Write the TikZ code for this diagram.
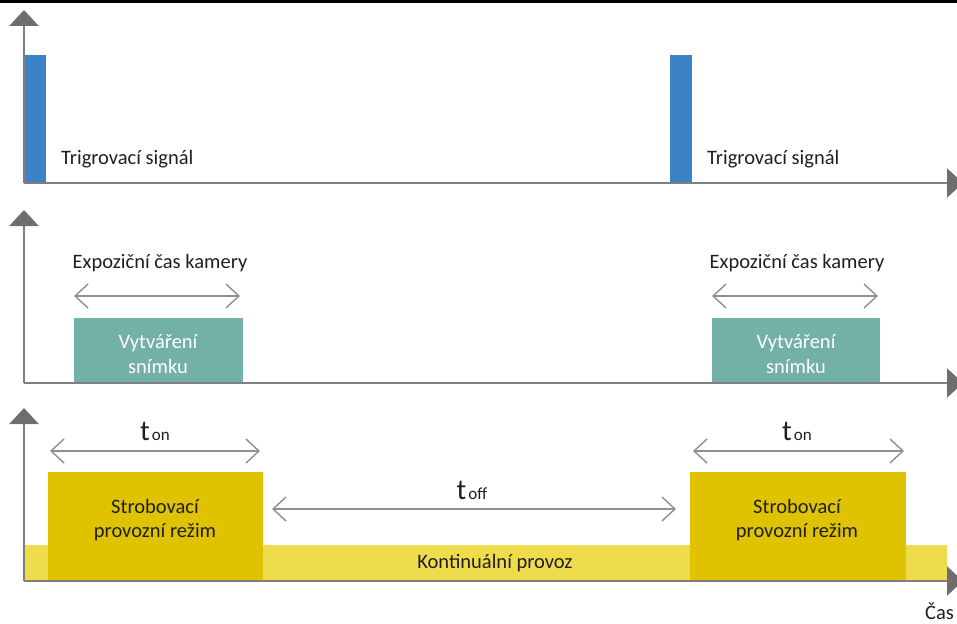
\documentclass[tikz,border=0pt]{standalone}
\usepackage{fontspec}
\setmainfont{Carlito}
\usetikzlibrary{arrows.meta}
\definecolor{axisgray}{HTML}{7F7F7F}
\definecolor{tipgray}{HTML}{6E6E6E}
\definecolor{dimgray}{HTML}{8F8F8F}
\definecolor{trigblue}{HTML}{3C82C6}
\definecolor{teal}{HTML}{73B0A7}
\definecolor{darkyellow}{HTML}{E0C300}
\definecolor{lightyellow}{HTML}{EFDC4C}
\definecolor{txt}{HTML}{1F1F1F}
\tikzset{
  axisline/.style={draw=axisgray, line width=2.4pt, -{Triangle[length=16pt,width=29pt,color=tipgray]}},
  dimline/.style={draw=dimgray, line width=1.4pt, {Straight Barb[length=13pt,width=24pt,line width=1.4pt]}-{Straight Barb[length=13pt,width=24pt,line width=1.4pt]}},
  box/.style={inner sep=0pt, outer sep=0pt, anchor=north west, draw=none},
  lbl/.style={inner sep=0pt, text=txt, font=\fontsize{20.5}{24.5}\selectfont, align=center},
  boxlbl/.style={inner sep=0pt, font=\fontsize{20.5}{24.5}\selectfont, align=center},
  tlbl/.style={inner sep=0pt, text=txt}
}
\begin{document}
\begin{tikzpicture}[x=1pt,y=-1pt]
\useasboundingbox (0,0) rectangle (957,623);
\clip (0,0) rectangle (957,623);
% top frame line
\fill[black] (0,0) rectangle (957,3);

% ---------- panel 1 ----------
\node[box, fill=trigblue, minimum width=22pt, minimum height=128pt] (b1) at (24,55) {};
\node[box, fill=trigblue, minimum width=22pt, minimum height=128pt] (b2) at (670,55) {};
\coordinate (o1) at (24,183);
\coordinate (y1) at (24,10);
\coordinate (x1) at (963,183);
\draw[axisline] (o1) -- (y1);
\draw[axisline] (o1) -- (x1);
\node[lbl, anchor=west] (t1) at (61,159) {Trigrovací signál};
\node[lbl, anchor=west] (t2) at (707,159) {Trigrovací signál};

% ---------- panel 2 ----------
\node[box, fill=teal, minimum width=169pt, minimum height=65pt] (v1) at (74,318) {};
\node[box, fill=teal, minimum width=168pt, minimum height=65pt] (v2) at (712,318) {};
\node[boxlbl, text=white] (v1t) at (158,354) {Vytváření\\snímku};
\node[boxlbl, text=white] (v2t) at (796,354) {Vytváření\\snímku};
\coordinate (o2) at (24,383);
\coordinate (y2) at (24,210);
\coordinate (x2) at (963,383);
\draw[axisline] (o2) -- (y2);
\draw[axisline] (o2) -- (x2);
\coordinate (e1a) at (74,296);
\coordinate (e1b) at (240,296);
\coordinate (e2a) at (712,296);
\coordinate (e2b) at (878,296);
\draw[dimline] (e1a) -- (e1b);
\draw[dimline] (e2a) -- (e2b);
\node[lbl] (x1t) at (160,263) {Expoziční čas kamery};
\node[lbl] (x2t) at (797,263) {Expoziční čas kamery};

% ---------- panel 3 ----------
\node[box, fill=lightyellow, minimum width=923pt, minimum height=36pt] (band) at (24,545) {};
\node[box, fill=darkyellow, minimum width=215pt, minimum height=109pt] (s1) at (48,472) {};
\node[box, fill=darkyellow, minimum width=216pt, minimum height=109pt] (s2) at (690,472) {};
\node[lbl] (s1t) at (155,520) {Strobovací\\provozní režim};
\node[lbl] (s2t) at (797,520) {Strobovací\\provozní režim};
\node[lbl] (kt) at (495,563) {Kontinuální provoz};
\coordinate (o3) at (24,581);
\coordinate (y3) at (24,408);
\coordinate (x3) at (963,581);
\draw[axisline] (o3) -- (y3);
\draw[axisline] (o3) -- (x3);
\coordinate (n1a) at (50,451);
\coordinate (n1b) at (260,451);
\coordinate (n2a) at (693,451);
\coordinate (n2b) at (904,451);
\coordinate (fa) at (272,509);
\coordinate (fb) at (676,509);
\draw[dimline] (n1a) -- (n1b);
\draw[dimline] (n2a) -- (n2b);
\draw[dimline] (fa) -- (fb);
\node[tlbl] (on1) at (155,431) {\fontsize{29}{29}\selectfont t\hspace{2pt}\fontsize{17}{17}\selectfont on};
\node[tlbl] (on2) at (797,431) {\fontsize{29}{29}\selectfont t\hspace{2pt}\fontsize{17}{17}\selectfont on};
\node[tlbl] (off) at (472,490) {\fontsize{29}{29}\selectfont t\hspace{2pt}\fontsize{17}{17}\selectfont off};
\node[lbl, anchor=base west] (cas) at (925,619) {Čas};
\end{tikzpicture}
\end{document}
